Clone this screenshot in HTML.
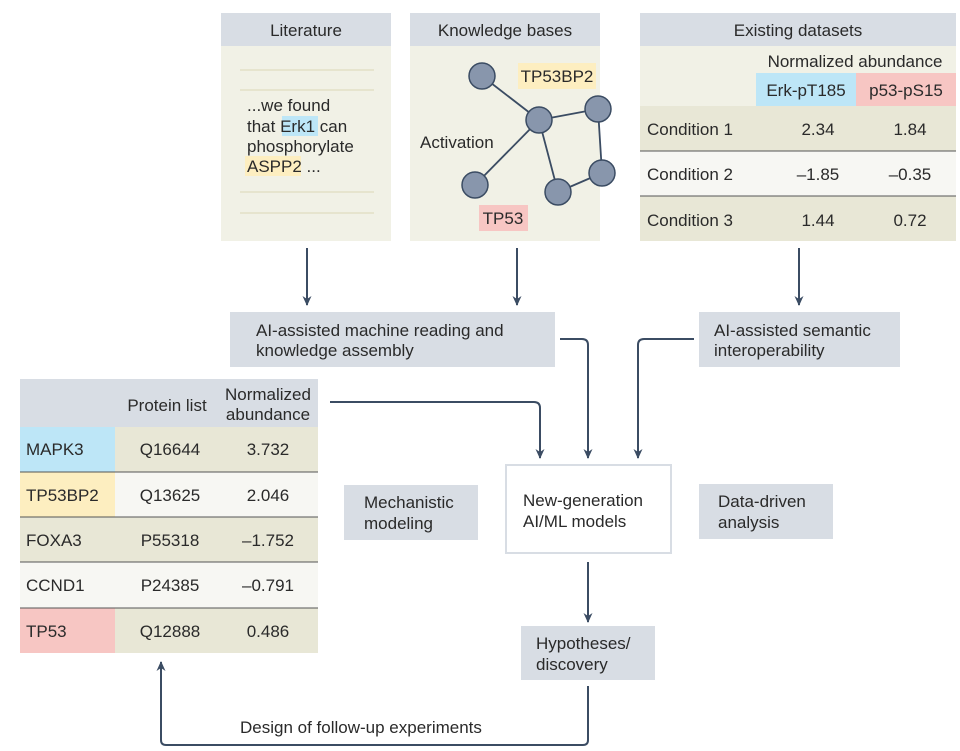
<!DOCTYPE html>
<html><head><meta charset="utf-8"><style>
body{margin:0;background:#fff;}
svg{display:block;font-family:"Liberation Sans",sans-serif;}
text{fill:#2a2a2a;font-size:17px;}
</style></head><body>
<svg width="960" height="751" viewBox="0 0 960 751" xmlns="http://www.w3.org/2000/svg">
<defs>
<marker id="ah" markerWidth="12" markerHeight="12" refX="9" refY="5" orient="auto" markerUnits="userSpaceOnUse">
<path d="M0,0.5 L10,5 L0,9.5 L3,5 Z" fill="#3b4c63"/>
</marker>
</defs>
<!-- Literature -->
<rect x="221" y="13" width="170" height="228" fill="#f1f1e6"/>
<rect x="221" y="13" width="170" height="33" fill="#d8dde4"/>
<text x="306" y="36" text-anchor="middle">Literature</text>
<g stroke="#e2dfc6" stroke-width="1.5"><line x1="240" y1="70" x2="374" y2="70"/><line x1="240" y1="90" x2="374" y2="90"/><line x1="240" y1="192" x2="374" y2="192"/><line x1="240" y1="213" x2="374" y2="213"/></g>
<rect x="282" y="116" width="36" height="20" fill="#bde6f7"/>
<rect x="245" y="156" width="56" height="20" fill="#fdeec0"/>
<text x="247" y="111">...we found</text>
<text x="247" y="132">that Erk1 can</text>
<text x="247" y="152">phosphorylate</text>
<text x="247" y="172">ASPP2 ...</text>
<!-- Knowledge bases -->
<rect x="410" y="13" width="190" height="228" fill="#f1f1e6"/>
<rect x="410" y="13" width="190" height="33" fill="#d8dde4"/>
<text x="505" y="36" text-anchor="middle">Knowledge bases</text>
<rect x="518" y="63" width="78" height="26" fill="#fdeec0"/>
<text x="557" y="82" text-anchor="middle">TP53BP2</text>
<rect x="479" y="205" width="49" height="26" fill="#f7c6c3"/>
<text x="503" y="224" text-anchor="middle">TP53</text>
<text x="420" y="148">Activation</text>
<g stroke="#3b4c63" stroke-width="1.8">
<line x1="482" y1="76" x2="539" y2="120"/><line x1="539" y1="120" x2="598" y2="109"/><line x1="539" y1="120" x2="475" y2="185"/><line x1="539" y1="120" x2="558" y2="192"/><line x1="598" y1="109" x2="602" y2="173"/><line x1="602" y1="173" x2="558" y2="192"/>
</g>
<g fill="#8896ac" stroke="#3b4c63" stroke-width="1.5">
<circle cx="482" cy="76" r="13"/><circle cx="539" cy="120" r="13"/><circle cx="598" cy="109" r="13"/><circle cx="602" cy="173" r="13"/><circle cx="558" cy="192" r="13"/><circle cx="475" cy="185" r="13"/>
</g>
<!-- Existing datasets -->
<rect x="640" y="13" width="316" height="33" fill="#d8dde4"/>
<text x="798" y="36" text-anchor="middle">Existing datasets</text>
<rect x="640" y="46" width="316" height="60" fill="#f1f1e6"/>
<text x="855" y="67" text-anchor="middle">Normalized abundance</text>
<rect x="756" y="73" width="100" height="33" fill="#bde6f7"/>
<rect x="856" y="73" width="100" height="33" fill="#f7c6c3"/>
<text x="806" y="96" text-anchor="middle">Erk-pT185</text>
<text x="906" y="96" text-anchor="middle">p53-pS15</text>
<rect x="640" y="106" width="316" height="45" fill="#e8e7d6"/>
<rect x="640" y="151" width="316" height="45" fill="#f7f7f3"/>
<rect x="640" y="196" width="316" height="45" fill="#e8e7d6"/>
<g stroke="#555" stroke-width="1"><line x1="640" y1="151" x2="956" y2="151"/><line x1="640" y1="196" x2="956" y2="196"/></g>
<text x="647" y="135">Condition 1</text><text x="818" y="135" text-anchor="middle">2.34</text><text x="910" y="135" text-anchor="middle">1.84</text>
<text x="647" y="180">Condition 2</text><text x="818" y="180" text-anchor="middle">–1.85</text><text x="910" y="180" text-anchor="middle">–0.35</text>
<text x="647" y="226">Condition 3</text><text x="818" y="226" text-anchor="middle">1.44</text><text x="910" y="226" text-anchor="middle">0.72</text>
<!-- arrows -->
<g stroke="#3b4c63" stroke-width="2" fill="none">
<line x1="307" y1="248" x2="307" y2="305" marker-end="url(#ah)"/>
<line x1="517" y1="248" x2="517" y2="305" marker-end="url(#ah)"/>
<line x1="799" y1="248" x2="799" y2="305" marker-end="url(#ah)"/>
<path d="M560,339 H582 Q588,339 588,345 V458" marker-end="url(#ah)"/>
<path d="M694,339 H644 Q638,339 638,345 V458" marker-end="url(#ah)"/>
<path d="M330,402 H534 Q540,402 540,408 V458" marker-end="url(#ah)"/>
<line x1="588" y1="562" x2="588" y2="622" marker-end="url(#ah)"/>
<path d="M588,686 V740 Q588,745 583,745 H166 Q161,745 161,740 V662" marker-end="url(#ah)"/>
</g>
<!-- AI boxes -->
<rect x="230" y="312" width="325" height="55" fill="#d8dde4"/>
<text x="256" y="336">AI-assisted machine reading and</text>
<text x="256" y="356">knowledge assembly</text>
<rect x="699" y="312" width="201" height="55" fill="#d8dde4"/>
<text x="714" y="336">AI-assisted semantic</text>
<text x="714" y="356">interoperability</text>
<!-- protein table -->
<rect x="20" y="379" width="298" height="48" fill="#d8dde4"/>
<text x="167" y="411" text-anchor="middle">Protein list</text>
<text x="268" y="400" text-anchor="middle">Normalized</text>
<text x="268" y="420" text-anchor="middle">abundance</text>
<rect x="20" y="427" width="298" height="45" fill="#e8e7d6"/>
<rect x="20" y="472" width="298" height="45" fill="#f7f7f3"/>
<rect x="20" y="517" width="298" height="45" fill="#e8e7d6"/>
<rect x="20" y="562" width="298" height="46" fill="#f7f7f3"/>
<rect x="20" y="608" width="298" height="45" fill="#e8e7d6"/>
<rect x="20" y="427" width="95" height="45" fill="#bde6f7"/>
<rect x="20" y="472" width="95" height="45" fill="#fdeec0"/>
<rect x="20" y="608" width="95" height="45" fill="#f7c6c3"/>
<g stroke="#555" stroke-width="1"><line x1="20" y1="472" x2="318" y2="472"/><line x1="20" y1="517" x2="318" y2="517"/><line x1="20" y1="562" x2="318" y2="562"/><line x1="20" y1="608" x2="318" y2="608"/></g>
<text x="26" y="455">MAPK3</text><text x="170" y="455" text-anchor="middle">Q16644</text><text x="268" y="455" text-anchor="middle">3.732</text>
<text x="26" y="501">TP53BP2</text><text x="170" y="501" text-anchor="middle">Q13625</text><text x="268" y="501" text-anchor="middle">2.046</text>
<text x="26" y="546">FOXA3</text><text x="170" y="546" text-anchor="middle">P55318</text><text x="268" y="546" text-anchor="middle">–1.752</text>
<text x="26" y="591">CCND1</text><text x="170" y="591" text-anchor="middle">P24385</text><text x="268" y="591" text-anchor="middle">–0.791</text>
<text x="26" y="637">TP53</text><text x="170" y="637" text-anchor="middle">Q12888</text><text x="268" y="637" text-anchor="middle">0.486</text>
<!-- middle boxes -->
<rect x="344" y="485" width="134" height="55" fill="#d8dde4"/>
<text x="364" y="508">Mechanistic</text><text x="364" y="529">modeling</text>
<rect x="506" y="465" width="165" height="88" fill="#fff" stroke="#d8dde4" stroke-width="2"/>
<text x="523" y="506">New-generation</text><text x="523" y="527">AI/ML models</text>
<rect x="699" y="484" width="134" height="55" fill="#d8dde4"/>
<text x="718" y="507">Data-driven</text><text x="718" y="528">analysis</text>
<rect x="521" y="626" width="134" height="54" fill="#d8dde4"/>
<text x="536" y="649">Hypotheses/</text><text x="536" y="670">discovery</text>
<text x="240" y="733">Design of follow-up experiments</text>
</svg>
</body></html>
